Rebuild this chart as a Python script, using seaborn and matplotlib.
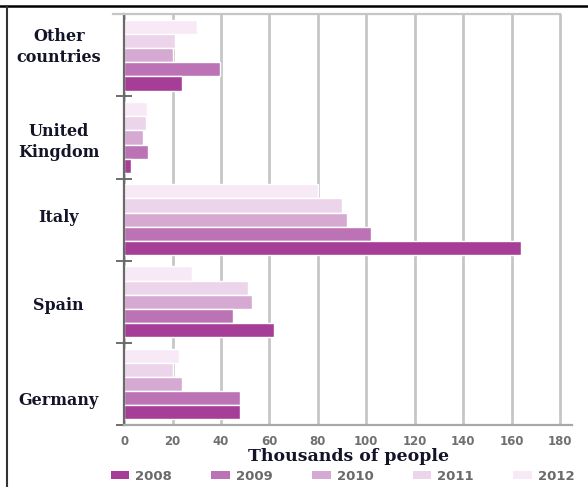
import pandas as pd
import matplotlib.pyplot as plt
import seaborn as sns
from matplotlib.patches import Patch
from matplotlib.lines import Line2D

# values (thousands of people)
countries = ['Other\ncountries', 'United\nKingdom', 'Italy', 'Spain', 'Germany']
years = ['2008', '2009', '2010', '2011', '2012']
v2008 = [24, 3, 164, 62, 48]
v2009 = [39.5, 10, 102, 45, 48]
v2010 = [20, 8, 92, 53, 24]
v2011 = [21, 9, 90, 51, 20]
v2012 = [30, 9.5, 80, 28, 22.5]
xticks = list(range(0, 181, 20))
colors = ['#a63d97', '#bb73b5', '#d6a9d2', '#ecd4ea', '#f7eaf6']

rows = []
for yr, vals in zip(years, [v2008, v2009, v2010, v2011, v2012]):
    for c, v in zip(countries, vals):
        rows.append({'country': c, 'year': yr, 'value': v})
df = pd.DataFrame(rows)

sns.set_style('white')
fig = plt.figure(figsize=(5.88, 4.87), dpi=100)
ax = fig.add_axes([0.211, 0.127, 0.762, 0.844])

sns.barplot(data=df, y='country', x='value', hue='year', order=countries,
            hue_order=years[::-1], palette=dict(zip(years, colors)),
            orient='h', width=0.86, edgecolor='white', linewidth=1,
            saturation=1, legend=False, ax=ax)

ax.set_xlim(0, 185)
ax.set_ylim(4.5, -0.5)
ax.set_xticks(xticks)
ax.set_xticklabels([str(t) for t in xticks], fontsize=8.5, fontweight='bold',
                   color='#707070')
ax.xaxis.grid(True, color='#c6c6c6', lw=2)
ax.set_axisbelow(True)
ax.tick_params(axis='x', length=0, pad=7)

# category labels sit a bit off the group centres in the original
ax.set_yticks([-0.15, 1.01, 1.945, 3.02, 4.17])
ax.set_yticklabels(countries, fontsize=11.5, fontweight='bold',
                   family='DejaVu Serif', color='#141428', ha='center',
                   multialignment='center', linespacing=1.3)
ax.tick_params(axis='y', which='major', length=0, pad=47)
ax.set_yticks([0.5, 1.5, 2.5, 3.5, 4.5], minor=True)
ax.tick_params(axis='y', which='minor', left=True, direction='inout', length=11,
               width=1.2, color='#555555')

ax.spines['right'].set_visible(False)
ax.spines['left'].set_color('#6a6a6a')
ax.spines['left'].set_linewidth(1.6)
ax.spines['bottom'].set_color('#a8a8a8')
ax.spines['bottom'].set_linewidth(1.6)
ax.spines['top'].set_color('#c6c6c6')
ax.spines['top'].set_linewidth(1.6)
ax.spines['top'].set_bounds(-4.5, 180)

ax.set_ylabel('')
ax.set_xlabel('Thousands of people', fontsize=12.5, fontweight='bold',
              family='DejaVu Serif', color='#141428', labelpad=0)

handles = [Patch(facecolor=c, edgecolor='none', label=y) for y, c in zip(years, colors)]
leg = fig.legend(handles=handles, loc='center', bbox_to_anchor=(0.5825, 0.022),
                 ncol=5, frameon=False, fontsize=9.5, handlelength=1.4,
                 handleheight=0.6, handletextpad=0.45, columnspacing=3.0)
for t in leg.get_texts():
    t.set_color('#6a6a6a')
    t.set_fontweight('bold')

# frame lines of the original picture
fig.add_artist(Line2D([0, 1], [1 - 6 / 487, 1 - 6 / 487], color='black', lw=1.8))
fig.add_artist(Line2D([7 / 588, 7 / 588], [0, 1 - 6 / 487], color='#333333', lw=1.5))

fig.savefig('out.png', dpi=100)
